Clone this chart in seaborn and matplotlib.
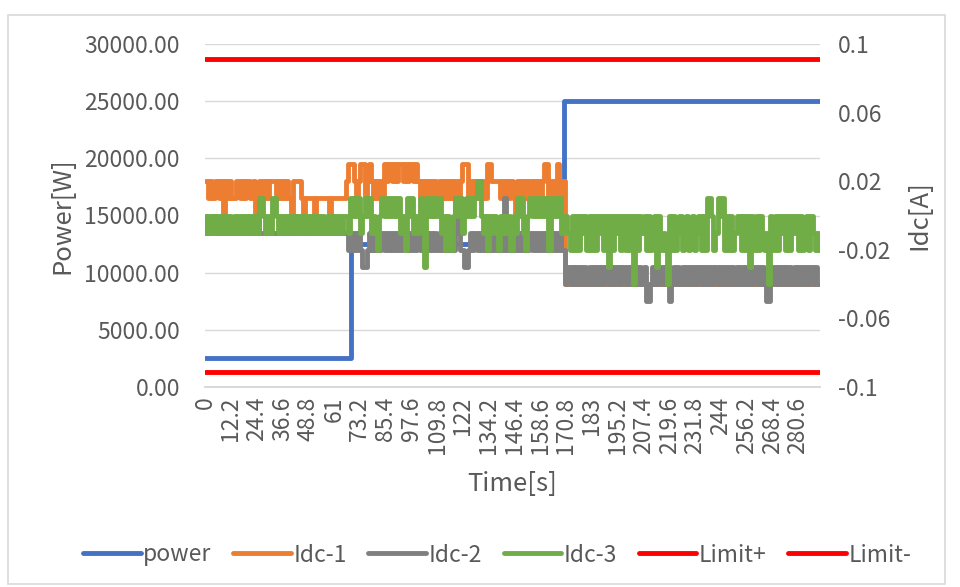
import numpy as np
import pandas as pd
import matplotlib
matplotlib.use("Agg")
import matplotlib.pyplot as plt
import seaborn as sns
from matplotlib.patches import Rectangle

# Idc readings in units of 0.01 A, one sample per second (t = 0 .. 291 s)
# section a: t 0-66, section b: t 67-170, section c: t 171-291
idc1_a = [2, 2, 1, 2, 1, 2, 2, 1, 2, 0,
          2, 1, 2, 1, 1, 2, 2, 1, 2, 1,
          2, 2, 1, 2, 0, 1, 2, 2, 1, 2,
          1, 2, 2, 2, 1, 2, 1, 2, 1, 2,
          1, 0, 2, 2, 2, 2, 1, 0, 1, 1,
          1, 1, 0, 1, 1, 1, 1, 1, 1, 0,
          1, 1, 1, 1, 1, 1, 1]
idc1_b = [2, 3, 3,
          3, 2, 1, 2, 3, 3, 1, 2, 3, 2,
          1, 2, 1, 2, 1, 3, 2, 3, 3, 2,
          3, 2, 3, 3, 2, 3, 2, 3, 3, 2,
          3, 2, 1, 2, 1, 2, 1, 2, 0, 2,
          1, 2, 1, 2, 1, 2, 1, 2, 1, 2,
          1, 2, 3, 3, 3, 1, 2, 1, 2, 1,
          2, 1, 2, 1, 3, 3, 2, 2, 2, 2,
          1, 2, 1, 2, 1, 2, 1, 0, 2, 1,
          2, 1, 2, 1, 2, 1, 2, 1, 2, 1,
          2, 3, 3, 1, 2, 1, 2, 3, 1, 2,
          2]
idc1_c = [-4, -4, -4, -3, -4, -4, -4, -4, -4,
          -4, -4, -4, -4, -4, -3, -4, -4, -4, -4,
          -4, -4, -4, -4, -4, -4, -4, -3, -4, -4,
          -4, -4, -4, -4, -4, -4, -4, -4, -4, -4,
          -4, -4, -4, -3, -4, -4, -4, -4, -4, -4,
          -4, -4, -4, -4, -4, -4, -4, -4, -4, -4,
          -4, -4, -4, -4, -4, -3, -4, -4, -4, -4,
          -4, -4, -4, -4, -4, -4, -4, -4, -4, -4,
          -4, -4, -3, -4, -4, -4, -4, -4, -4, -4,
          -4, -4, -4, -4, -4, -4, -4, -4, -4, -4,
          -4, -4, -4, -4, -3, -4, -4, -4, -4, -4,
          -4, -4, -4, -4, -4, -4, -4, -4, -4, -4,
          -4, -4]

idc2_a = [-1, -1, -1, -1, 0, -1, -1, -1, -1, -1,
          -1, -1, -1, -1, -1, -1, -1, -1, -1, -1,
          -1, -1, -1, -1, -1, 0, -1, -1, -1, -1,
          -1, -1, -1, -1, -1, -1, -1, -1, -1, -1,
          -1, -1, -1, 0, -1, -1, -1, -1, -1, -1,
          -1, -1, -1, -1, -1, -1, -1, -1, -1, -1,
          -1, -1, -1, -1, -1, -1, -1]
idc2_b = [-1, -2, -1,
          -2, -1, -2, -1, -2, -3, -3, -2, -1, -2,
          -1, -2, -1, -2, -1, -2, -1, -2, -1, -2,
          -1, -2, -1, -2, -1, -1, -2, -1, -2, -1,
          -2, -1, -2, -1, -2, -1, -2, -1, -2, -1,
          -2, -1, -2, -1, -2, -1, -2, -1, -2, 1,
          -1, -2, -2, -3, -3, -2, -1, -2, -1, -2,
          -1, -2, -1, -2, -1, -2, -1, -2, -1, -2,
          -1, -2, 1, -2, -1, -2, -1, -2, -1, -2,
          -1, -2, -1, -2, -1, -2, -1, -2, -1, -2,
          -1, -2, -1, -2, -1, -2, -1, -2, -1, -2,
          -2]
idc2_c = [-4, -3, -4, -3, -4, -3, -4, -3, -4,
          -3, -4, -3, -4, -3, -4, -3, -4, -3, -4,
          -3, -4, -3, -4, -3, -4, -3, -4, -3, -4,
          -3, -4, -3, -4, -3, -4, -3, -4, -3, -5,
          -5, -4, -3, -4, -3, -4, -3, -4, -3, -4,
          -5, -4, -3, -4, -3, -4, -3, -4, -3, -4,
          -3, -4, -3, -4, -3, -4, -3, -4, -3, -4,
          -3, -4, -3, -4, -3, -4, -3, -4, -3, -4,
          -3, -4, -3, -4, -3, -4, -3, -4, -3, -4,
          -3, -4, -3, -4, -3, -4, -5, -5, -4, -3,
          -4, -3, -4, -3, -4, -3, -4, -3, -4, -3,
          -4, -3, -4, -3, -4, -3, -4, -3, -4, -3,
          -4, -4]

idc3_a = [0, -1, 0, -1, 0, -1, 0, -1, 0, -1,
          0, -1, 0, -1, 0, -1, 0, -1, 0, -1,
          0, -1, 0, -1, 0, -1, 1, 1, 0, -1,
          0, -1, 1, 1, 0, -1, 0, -1, 0, -1,
          0, -1, 0, -1, 0, -1, 0, -1, 0, -1,
          0, -1, 0, -1, 0, -1, 0, -1, 0, -1,
          0, -1, 0, -1, 0, -1, 0]
idc3_b = [0, -1, 1,
          0, 1, 0, 1, -1, 0, 1, 0, 1, -1,
          0, -1, -2, 0, 1, 0, 1, 0, 1, 0,
          1, 0, 1, -1, 0, -2, 1, 0, 1, -1,
          0, -1, 1, 0, -3, 1, 0, 1, 0, 1,
          0, 1, -1, 0, -2, 0, -1, -2, 0, 1,
          0, 1, -1, 0, 1, 0, 1, 0, 1, 2,
          2, 0, -1, 0, -2, 0, -1, 0, -1, -2,
          0, -1, 0, -1, 0, -2, 0, -1, 1, 0,
          1, -1, -2, 0, 1, 0, 1, 0, 1, 0,
          1, 0, 1, -2, 1, 0, 1, 0, 1, -1,
          0]
idc3_c = [0, -1, -2, 0, -2, 0, -2, 0, -1, 0,
          -2, 0, -2, 0, -2, 0, -1, 0, -2, 0,
          -3, 0, -2, 0, -1, 0, -2, 0, -2, 0,
          -2, 0, -4, 0, -2, 0, -1, 0, -2, 0,
          -2, -1, 0, -3, 0, -2, -1, -2, -4, 0,
          -2, 0, -2, -1, 0, -2, -1, 0, -2, -1,
          0, -2, -1, 0, -2, 0, -2, 1, 1, 0,
          -2, -1, 1, 0, 1, -2, 0, -2, 0, -2,
          -1, 0, 0, -2, 0, -2, 0, -3, 0, -2,
          0, -2, 0, -1, -2, -1, -4, 0, -2, 0,
          -2, 0, -1, 0, -2, 0, -2, 0, -1, 0,
          -2, 0, -2, -1, 0, -2, 0, -1, -2, -1,
          -2]

idc1 = np.array(idc1_a + idc1_b + idc1_c) * 0.01
idc2 = np.array(idc2_a + idc2_b + idc2_c) * 0.01
idc3 = np.array(idc3_a + idc3_b + idc3_c) * 0.01
time_s = np.arange(len(idc1))   # 1 s per sample

# power steps
power_time = [0, 69, 69, 170, 170, 291]
power_w = [2500, 2500, 12500, 12500, 25000, 25000]

# current limits
limit_time = [0, 291]
limit_pos = [0.0915, 0.0915]
limit_neg = [-0.0915, -0.0915]

time_labels = ["0", "12.2", "24.4", "36.6", "48.8", "61", "73.2", "85.4", "97.6",
               "109.8", "122", "134.2", "146.4", "158.6", "170.8", "183", "195.2",
               "207.4", "219.6", "231.8", "244", "256.2", "268.4", "280.6"]
idc_ticks = [0.1, 0.06, 0.02, -0.02, -0.06, -0.1]
idc_ticklabels = ["0.1", "0.06", "0.02", "-0.02", "-0.06", "-0.1"]

df = pd.DataFrame({"time": time_s, "Idc-1": idc1, "Idc-2": idc2, "Idc-3": idc3})

sns.set_style("white")
plt.rcParams['font.family'] = ['Noto Sans CJK SC', 'DejaVu Sans']
plt.rcParams['axes.unicode_minus'] = False
txt = "#595959"

fig = plt.figure(figsize=(9.6, 5.87), dpi=100)
ax = fig.add_axes([205/960, 1-387/587, 615/960, 343/587])
ax2 = ax.twinx()

lw = 3.5
sns.lineplot(x=power_time, y=power_w, ax=ax, color="#4472C4", lw=lw, label="power", estimator=None, sort=False)
for name, col in [("Idc-1", "#ED7D31"), ("Idc-2", "#808080"), ("Idc-3", "#70AD47")]:
    sns.lineplot(data=df, x="time", y=name, ax=ax2, color=col, lw=lw, label=name,
                 estimator=None, drawstyle="steps-mid")
sns.lineplot(x=limit_time, y=limit_pos, ax=ax2, color="#FF0000", lw=lw, label="Limit+", estimator=None)
sns.lineplot(x=limit_time, y=limit_neg, ax=ax2, color="#FF0000", lw=lw, label="Limit-", estimator=None)

h1, l1 = ax.get_legend_handles_labels()
h2, l2 = ax2.get_legend_handles_labels()
for a in (ax, ax2):
    if a.get_legend() is not None:
        a.get_legend().remove()

ax.set_xlim(0, 291)
ax.set_ylim(0, 30000)
ax2.set_ylim(-0.1, 0.1)

ax.set_yticks(np.arange(0, 30001, 5000))
ax.set_yticklabels([f"{v:.2f}" for v in np.arange(0, 30001, 5000)])
ax2.set_yticks(idc_ticks)
ax2.set_yticklabels(idc_ticklabels)
ax.set_xticks([float(s) for s in time_labels])
ax.set_xticklabels(time_labels, rotation=90)

ax.grid(axis="y", color="#d9d9d9", lw=1)
ax.grid(axis="x", visible=False)
ax2.grid(False)
for a in (ax, ax2):
    for s in ("left", "right", "top"):
        a.spines[s].set_visible(False)
    a.spines["bottom"].set_color("#d9d9d9")
    a.spines["bottom"].set_linewidth(1.3)
    a.tick_params(length=0, colors=txt, labelsize=16.5)
ax.tick_params(axis="y", pad=18)
ax2.tick_params(axis="y", pad=13)
ax.tick_params(axis="x", pad=7)

ax.set_xlabel("Time[s]", color=txt, fontsize=18.5)
ax.set_ylabel("Power[W]", color=txt, fontsize=18.5)
ax2.set_ylabel("Idc[A]", color=txt, fontsize=18.5)
ax.xaxis.set_label_coords(0.5, -0.245)
ax.yaxis.set_label_coords(-0.21, 0.5)
ax2.yaxis.set_label_coords(1.14, 0.5)

leg = fig.legend(h1 + h2, l1 + l2, loc="center", bbox_to_anchor=(0.518, 1-555/587), ncol=6,
                 frameon=False, fontsize=16.5, handlelength=2.5, handletextpad=0.12,
                 columnspacing=0.95, labelcolor=txt)

fig.patches.append(Rectangle((8/960, 3/587), 937/960, 569/587, transform=fig.transFigure,
                             fill=False, edgecolor="#d9d9d9", lw=1.2))

fig.savefig("out.png", dpi=100)
